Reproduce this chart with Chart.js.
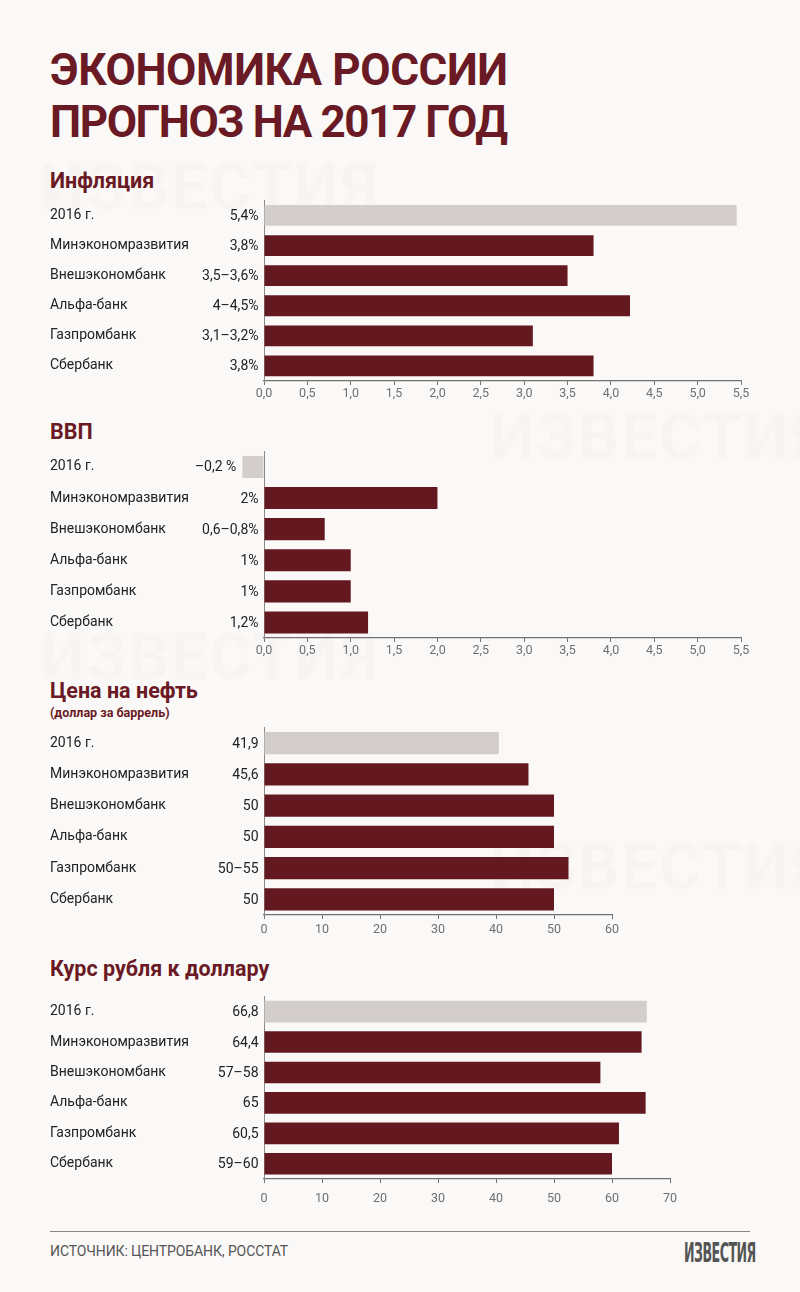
<!DOCTYPE html>
<html lang="ru">
<head>
  <meta charset="UTF-8">
  <title>Экономика России. Прогноз на 2017 год</title>
  <script src="https://cdn.jsdelivr.net/npm/chart.js"></script>
  <style>
    html, body { margin: 0; padding: 0; }
    body {
      width: 800px; height: 1292px; position: relative; overflow: hidden;
      background: #fbf9f7; font-family: Roboto, "Noto Sans", sans-serif;
    }
    .abs { position: absolute; }
    .title { left: 50px; font-size: 44px; font-weight: 700; color: #6a1a24; line-height: 52px; white-space: nowrap; }
    .section { left: 50px; font-size: 21.5px; font-weight: 700; color: #6a1a24; line-height: 26px; white-space: nowrap; }
    .sub { left: 50px; font-size: 12.5px; font-weight: 700; color: #6a1a24; line-height: 16px; }
    .chart { left: 0; width: 800px; }
    .mark { font-size: 64px; font-weight: 700; color: rgba(0,0,0,0.014); letter-spacing: 2px; white-space: nowrap; }
    .rule { left: 50px; width: 700px; top: 1231px; height: 0; border-top: 1.5px solid #8a8786; }
    .source { left: 50px; top: 1242px; font-size: 14px; color: #555; line-height: 18px; letter-spacing: -0.1px; }
    .logo { left: 684px; top: 1238px; font-family: "Liberation Sans Narrow", "DejaVu Sans Condensed", sans-serif;
            font-size: 27px; font-weight: 700; color: #555; line-height: 30px; letter-spacing: -1px;
            transform: scaleX(0.52); transform-origin: left center; }
  </style>
</head>
<body>
  <!-- watermarks -->
  <div class="abs mark" style="left:490px; top:400px;">ИЗВЕСТИЯ</div>
  <div class="abs mark" style="left:40px; top:620px;">ИЗВЕСТИЯ</div>
  <div class="abs mark" style="left:490px; top:830px;">ИЗВЕСТИЯ</div>
  <div class="abs mark" style="left:40px; top:150px;">ИЗВЕСТИЯ</div>

  <div class="abs title" style="top:44px; letter-spacing:-0.4px;">ЭКОНОМИКА РОССИИ</div>
  <div class="abs title" style="top:96px; letter-spacing:-1.4px;">ПРОГНОЗ НА 2017 ГОД</div>

  <div class="abs section" style="top:168px;">Инфляция</div>
  <div class="abs chart" style="top:189px; height:217px;"><canvas id="inflationChart"></canvas></div>

  <div class="abs section" style="top:419px;">ВВП</div>
  <div class="abs chart" style="top:440px; height:224px;"><canvas id="gdpChart"></canvas></div>

  <div class="abs section" style="top:678px;">Цена на нефть</div>
  <div class="abs sub" style="top:705px;">(доллар за баррель)</div>
  <div class="abs chart" style="top:716px; height:228px;"><canvas id="oilChart"></canvas></div>

  <div class="abs section" style="top:956px;">Курс рубля к доллару</div>
  <div class="abs chart" style="top:985px; height:233px;"><canvas id="rubleChart"></canvas></div>

  <div class="abs rule"></div>
  <div class="abs source">ИСТОЧНИК: ЦЕНТРОБАНК, РОССТАТ</div>
  <div class="abs logo">ИЗВЕСТИЯ</div>

  <script>
    // Источники прогноза (одинаковые для всех четырёх графиков)
    const categories = ['2016 г.', 'Минэкономразвития', 'Внешэкономбанк', 'Альфа-банк', 'Газпромбанк', 'Сбербанк'];

    // Инфляция, %
    const inflationValues = [5.45, 3.8, 3.5, 4.22, 3.1, 3.8];
    const inflationLabels = ['5,4%', '3,8%', '3,5–3,6%', '4–4,5%', '3,1–3,2%', '3,8%'];

    // ВВП, %
    const gdpValues = [-0.25, 2, 0.7, 1, 1, 1.2];
    const gdpLabels = ['–0,2 %', '2%', '0,6–0,8%', '1%', '1%', '1,2%'];

    // Цена на нефть, долл. за баррель
    const oilValues = [40.5, 45.6, 50, 50, 52.5, 50];
    const oilLabels = ['41,9', '45,6', '50', '50', '50–55', '50'];

    // Курс рубля к доллару
    const rubleValues = [66, 65.1, 58, 65.8, 61.2, 60];
    const rubleLabels = ['66,8', '64,4', '57–58', '65', '60,5', '59–60'];

    const GREY = '#d3cecb';
    const MAROON = '#641820';
    const barColors = categories.map((c, i) => i === 0 ? GREY : MAROON);

    // Подписи значений слева от начала столбца
    const valueLabels = {
      id: 'valueLabels',
      afterDatasetsDraw(chart, args, opts) {
        const ctx = chart.ctx;
        const meta = chart.getDatasetMeta(0);
        ctx.save();
        ctx.font = '14px Roboto';
        ctx.fillStyle = '#222';
        ctx.textAlign = 'right';
        ctx.textBaseline = 'middle';
        meta.data.forEach((bar, i) => {
          const x = Math.min(bar.x, bar.base) - 6;
          ctx.fillText(opts.labels[i], x, bar.y + 1);
        });
        ctx.restore();
      }
    };

    function makeChart(id, values, labels, max, step, padRight, tickPad, barPct) {
      return new Chart(document.getElementById(id), {
        type: 'bar',
        data: {
          labels: categories,
          datasets: [{
            data: values,
            backgroundColor: barColors,
            barPercentage: barPct,
            categoryPercentage: 1,
            clip: false
          }]
        },
        options: {
          indexAxis: 'y',
          responsive: true,
          maintainAspectRatio: false,
          animation: false,
          layout: { padding: { left: 50, right: padRight, top: 10, bottom: 4 } },
          plugins: {
            legend: { display: false },
            tooltip: { enabled: false },
            valueLabels: { labels: labels }
          },
          scales: {
            x: {
              min: 0,
              max: max,
              grid: { drawOnChartArea: false, drawTicks: true, tickLength: 4, color: '#727272' },
              border: { color: '#727272', width: 1.2 },
              ticks: {
                stepSize: step,
                padding: tickPad,
                color: '#707070',
                font: { family: 'Roboto', size: 12.5 },
                callback: (v) => step < 1 ? v.toFixed(1).replace('.', ',') : String(v)
              }
            },
            y: {
              grid: { display: false },
              border: { display: true, color: '#8a8a8a', width: 1 },
              afterFit: (scale) => { scale.width = 214; },
              ticks: {
                crossAlign: 'far',
                color: '#222',
                font: { family: 'Roboto', size: 14 }
              }
            }
          }
        },
        plugins: [valueLabels]
      });
    }

    makeChart('inflationChart', inflationValues, inflationLabels, 5.5, 0.5, 59, 1, 0.69);
    makeChart('gdpChart', gdpValues, gdpLabels, 5.5, 0.5, 59, 1.5, 0.71);
    makeChart('oilChart', oilValues, oilLabels, 60, 10, 188, 3, 0.71);
    makeChart('rubleChart', rubleValues, rubleLabels, 70, 10, 130, 8, 0.71);
  </script>
</body>
</html>
